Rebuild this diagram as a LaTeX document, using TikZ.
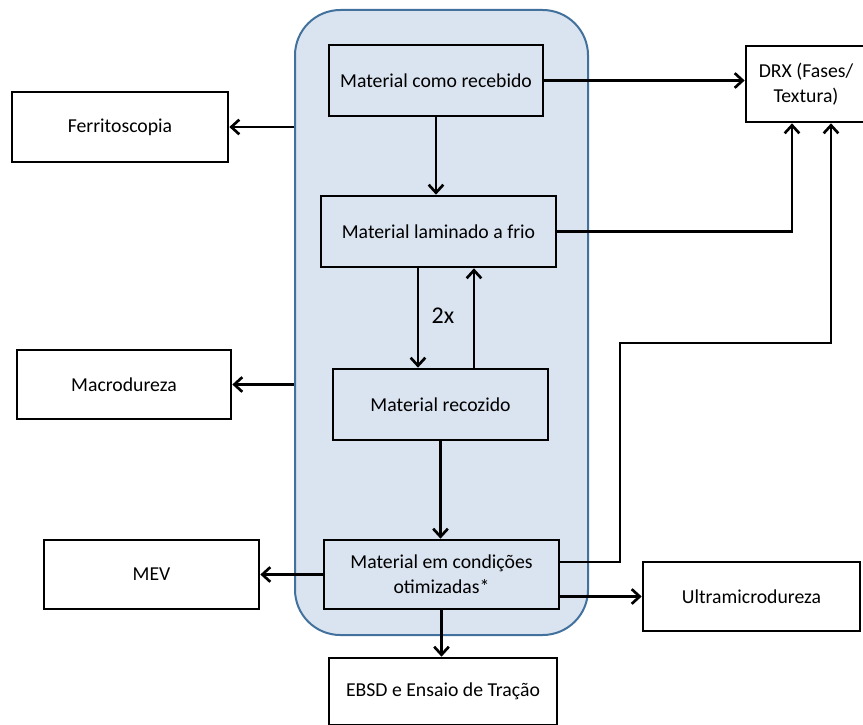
\documentclass[tikz,border=0pt]{standalone}
\usepackage{fontspec}
\setmainfont{Carlito}
\usetikzlibrary{arrows.meta,positioning,calc}
\definecolor{GrupoFill}{HTML}{DAE3F0}
\definecolor{GrupoLine}{HTML}{41719C}
\tikzset{
  caixa/.style={draw=black, line width=2pt, align=center, inner sep=2pt,
    font=\fontsize{14.8}{19}\selectfont},
  seta/.style={line width=2pt, -{Straight Barb[length=6pt,width=11pt,line width=2pt]}},
}

\begin{document}
\begin{tikzpicture}[x=0.75pt,y=-0.75pt]
  \useasboundingbox (0,0) rectangle (863,724);

  % bloco azul com as etapas do material
  \node[draw=GrupoLine, fill=GrupoFill, line width=1.5pt, rounded corners=34pt,
    minimum width=219.75pt, minimum height=468.75pt] (grupo) at (441.5,322.5) {};

  \node[caixa, minimum width=160.5pt, minimum height=53.25pt] (receb) at (436,80.5) {Material como recebido};
  \node[caixa, minimum width=176.25pt, minimum height=53.25pt] (lamin) at (438.5,231.5) {Material laminado a frio};
  \node[caixa, minimum width=161.25pt, minimum height=53.25pt] (recoz) at (440.5,404.5) {Material recozido};
  \node[caixa, minimum width=176.25pt, minimum height=51.75pt] (otim) at (441.5,574.5) {Material em condições\\otimizadas*};

  % ensaios
  \node[caixa, fill=white, minimum width=171pt, minimum height=50.25pt] (ebsd) at (443,691.5) {EBSD e Ensaio de Tração};
  \node[caixa, minimum width=90pt, minimum height=57pt] (drx) at (806,84) {DRX (Fases/\\Textura)};
  \node[caixa, minimum width=162pt, minimum height=52.5pt] (ferri) at (120,127) {Ferritoscopia};
  \node[caixa, minimum width=160.5pt, minimum height=51.75pt] (macro) at (124,384.5) {Macrodureza};
  \node[caixa, minimum width=161.25pt, minimum height=51.75pt] (mev) at (151.5,574.5) {MEV};
  \node[caixa, minimum width=162.75pt, minimum height=51.75pt] (ultra) at (751.5,596.5) {Ultramicrodureza};

  \coordinate (dobra) at (620,343);

  \draw[seta] (receb.east) -- (receb.east -| drx.west);
  \draw[seta] (receb.south) -- (receb.south |- lamin.north);
  \draw[seta] (lamin.east) -| ([xshift=-10.5pt]drx.south);
  \draw[seta] ([xshift=-15.4pt]lamin.south) -- ([xshift=-15.4pt]lamin.south |- recoz.north);
  \draw[seta] ([xshift=25.1pt]recoz.north) -- ([xshift=25.1pt]recoz.north |- lamin.south);
  \node[font=\fontsize{18}{20}\selectfont] (vezes) at (443,316) {2x};
  \draw[seta] (recoz.south) -- (recoz.south |- otim.north);
  \draw[seta] ([yshift=9.4pt]otim.east) -| (dobra) -| ([xshift=18.75pt]drx.south);
  \draw[seta] (otim.east |- ultra.west) -- (ultra.west);
  \draw[seta] (otim.west) -- (mev.east);
  \draw[seta] (otim.south) -- (otim.south |- ebsd.north);
  \draw[seta] (grupo.west |- ferri.east) -- (ferri.east);
  \draw[seta] (grupo.west |- macro.east) -- (macro.east);
\end{tikzpicture}
\end{document}
